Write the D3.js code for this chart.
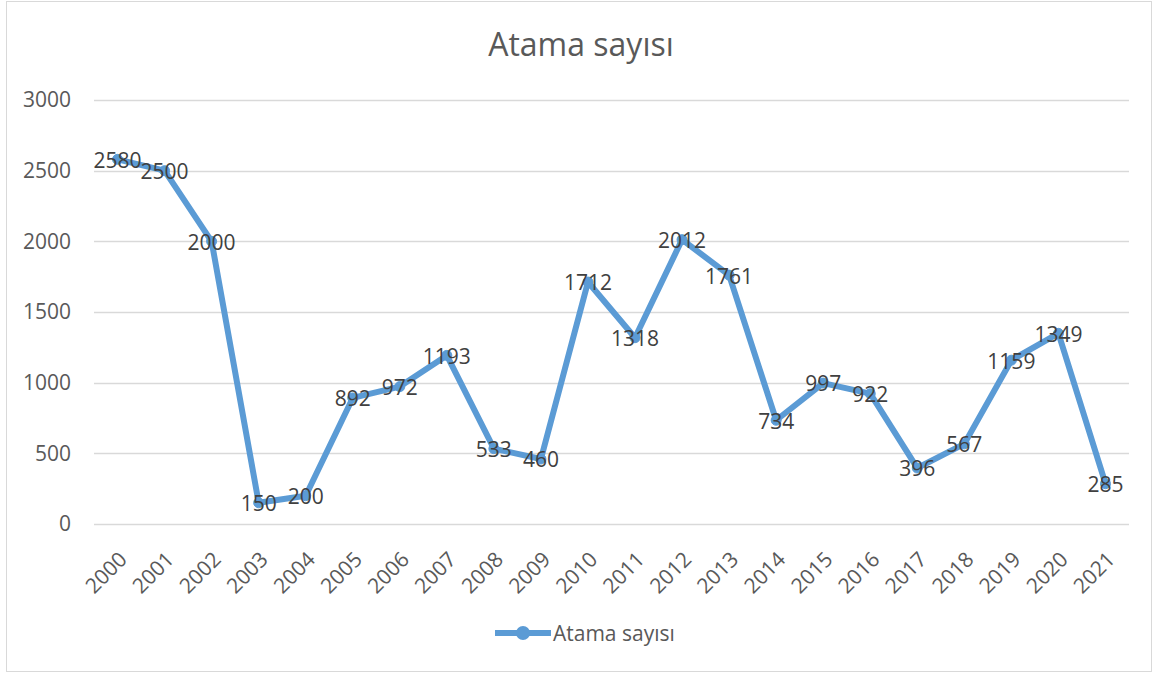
<!DOCTYPE html>
<html>
<head>
<meta charset="utf-8">
<script src="https://cdn.jsdelivr.net/npm/d3@7"></script>
<style>
  html, body { margin: 0; padding: 0; background: #fff; }
  svg { display: block; }
  text { font-family: "Open Sans", "Noto Sans", sans-serif; }
</style>
</head>
<body>
<svg id="chart" width="1153" height="675"></svg>
<script>
const years = ["2000","2001","2002","2003","2004","2005","2006","2007","2008","2009","2010","2011","2012","2013","2014","2015","2016","2017","2018","2019","2020","2021"];
const values = [2580,2500,2000,150,200,892,972,1193,533,460,1712,1318,2012,1761,734,997,922,396,567,1159,1349,285];
const yTicks = [0,500,1000,1500,2000,2500,3000];
const seriesName = "Atama sayısı";
const title = "Atama sayısı";

const svg = d3.select("#chart");
const plot = {left: 94, right: 1129, top: 100, bottom: 524};
const FS = 21;

// outer border
svg.append("rect").attr("x", 6.5).attr("y", 1.5).attr("width", 1145).attr("height", 670)
  .attr("fill", "#fff").attr("stroke", "#D9D9D9").attr("stroke-width", 1);

const x = d3.scaleBand().domain(years).range([plot.left, plot.right]);
const y = d3.scaleLinear().domain([0, 3000]).range([plot.bottom, plot.top]);

// title
svg.append("text").attr("x", 581).attr("y", 56).attr("text-anchor", "middle")
  .attr("font-size", 32).attr("fill", "#595959").text(title);

// gridlines
svg.append("g").selectAll("line").data(yTicks).join("line")
  .attr("x1", plot.left).attr("x2", plot.right)
  .attr("y1", d => Math.round(y(d)) + 0.5).attr("y2", d => Math.round(y(d)) + 0.5)
  .attr("stroke", "#D9D9D9").attr("stroke-width", 1.5);

// y axis labels
const yAxis = d3.axisLeft(y).tickValues(yTicks).tickFormat(d3.format("d")).tickSize(0).tickPadding(0);
const gy = svg.append("g").attr("transform", `translate(71,0)`).call(yAxis);
gy.select(".domain").remove();
gy.selectAll("text").attr("font-size", FS).attr("fill", "#595959")
  .attr("font-family", '"Open Sans", sans-serif');

// x axis labels
const xAxis = d3.axisBottom(x).tickSize(0).tickPadding(0);
const gx = svg.append("g").attr("transform", `translate(0,${plot.bottom})`).call(xAxis);
gx.select(".domain").remove();
gx.selectAll("text")
  .attr("font-size", FS).attr("fill", "#595959")
  .attr("font-family", '"Open Sans", sans-serif')
  .attr("text-anchor", "end")
  .attr("y", null)
  .attr("transform", "translate(0,26) rotate(-45)")
  .attr("dy", "0.72em");

// line
const line = d3.line().x((d, i) => x(years[i]) + x.bandwidth() / 2).y(d => y(d));
svg.append("path").datum(values).attr("d", line)
  .attr("fill", "none").attr("stroke", "#5B9BD5").attr("stroke-width", 6)
  .attr("stroke-linejoin", "round").attr("stroke-linecap", "round");

// markers
svg.append("g").selectAll("circle").data(values).join("circle")
  .attr("cx", (d, i) => x(years[i]) + x.bandwidth() / 2).attr("cy", d => y(d))
  .attr("r", 5).attr("fill", "#5B9BD5").attr("stroke", "#5B9BD5");

// data labels
svg.append("g").selectAll("text").data(values).join("text")
  .attr("x", (d, i) => x(years[i]) + x.bandwidth() / 2).attr("y", d => y(d))
  .attr("dy", "0.4em").attr("text-anchor", "middle")
  .attr("font-size", FS).attr("fill", "#404040").text(d => d);

// legend
const lg = svg.append("g").attr("transform", "translate(495,633)");
lg.append("line").attr("x1", 0).attr("x2", 56).attr("y1", 0).attr("y2", 0)
  .attr("stroke", "#5B9BD5").attr("stroke-width", 6);
lg.append("circle").attr("cx", 28).attr("cy", 0).attr("r", 7).attr("fill", "#5B9BD5");
lg.append("text").attr("x", 58).attr("y", 0).attr("dy", "0.36em")
  .attr("font-size", FS).attr("fill", "#595959").text(seriesName);
</script>
</body>
</html>
